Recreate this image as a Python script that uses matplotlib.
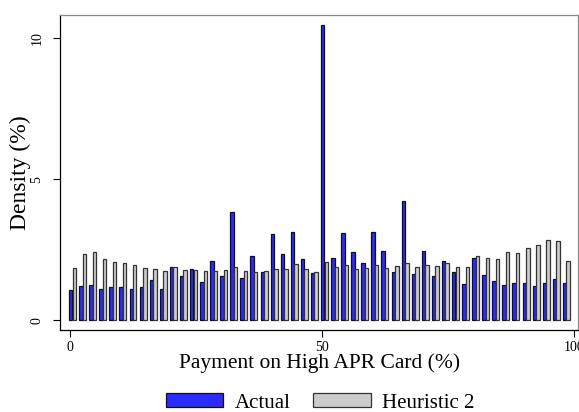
import matplotlib
matplotlib.use("Agg")
import matplotlib.pyplot as plt
import numpy as np

plt.rcParams['font.family'] = ['Liberation Serif', 'DejaVu Serif']

# payment share bins (%), one pair of bars every 2 points
bins = np.arange(0, 100, 2)

actual = [1.06, 1.20, 1.23, 1.12, 1.16, 1.16, 1.09, 1.17, 1.43, 1.09,
          1.87, 1.56, 1.81, 1.36, 2.09, 1.55, 3.82, 1.51, 2.29, 1.70,
          3.05, 2.34, 3.11, 2.16, 1.67, 10.46, 2.20, 3.09, 2.42, 2.01,
          3.14, 2.46, 1.71, 4.21, 1.62, 2.45, 1.57, 2.10, 1.72, 1.29,
          2.19, 1.61, 1.39, 1.23, 1.30, 1.31, 1.21, 1.32, 1.45, 1.30]

heuristic2 = [1.85, 2.36, 2.43, 2.17, 2.07, 2.02, 1.95, 1.84, 1.81, 1.75,
              1.87, 1.76, 1.77, 1.75, 1.75, 1.76, 1.88, 1.74, 1.72, 1.75,
              1.81, 1.81, 1.99, 1.81, 1.70, 2.05, 1.88, 1.97, 1.83, 1.86,
              1.95, 1.84, 1.91, 2.02, 1.88, 1.96, 1.93, 2.02, 1.90, 1.89,
              2.26, 2.22, 2.17, 2.42, 2.38, 2.55, 2.66, 2.85, 2.80, 2.10]

fig = plt.figure(figsize=(5.79, 4.12), dpi=100)
ax = fig.add_axes([60 / 579, 1 - 330 / 412, 518 / 579, 315 / 412])

w = 0.68
ax.bar(bins - 0.2, actual, width=w, align='edge', color='#2b2bff',
       edgecolor='#111111', linewidth=0.9, label='Actual')
ax.bar(bins + 0.5, heuristic2, width=w, align='edge', color='#cccccc',
       edgecolor='#333333', linewidth=0.9, label='Heuristic 2')

ax.set_xlim(-2, 100.8)
ax.set_ylim(-0.35, 10.82)

ax.set_xticks([0, 50, 100])
ax.set_yticks([0, 5, 10])
ax.tick_params(axis='x', length=5, width=0.8, pad=3, labelsize=10)
ax.tick_params(axis='y', length=5, width=0.8, pad=7, labelsize=10)
for lab in ax.get_yticklabels():
    lab.set_rotation(90)
    lab.set_va('center')

ax.set_xlabel('Payment on High APR Card (%)', fontsize=15.5)
ax.xaxis.label.set_va('center')
ax.xaxis.set_label_coords(0.5 + (320 - 319) / 518, -(363 - 330) / 315)
ax.set_ylabel('Density (%)', fontsize=17)
ax.yaxis.label.set_va('center')
ax.yaxis.set_label_coords(-(60 - 20) / 518, 0.5)

ax.spines['left'].set_color('black')
ax.spines['bottom'].set_color('black')
ax.spines['top'].set_color('#888888')
ax.spines['right'].set_color('#888888')
for s in ax.spines.values():
    s.set_linewidth(0.9)

fig.legend(loc='center', bbox_to_anchor=(320 / 579, 1 - 403 / 412), ncol=2,
           frameon=False, fontsize=15, handlelength=2.75, handleheight=0.67,
           columnspacing=1.1, handletextpad=0.53, borderpad=0.1)

fig.savefig('out.png', dpi=100)
